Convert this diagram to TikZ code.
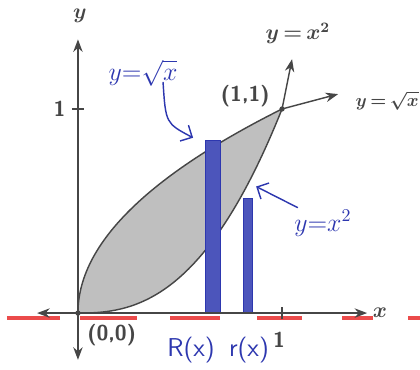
\documentclass[tikz,border=0pt]{standalone}
\usepackage{amsmath}
\usepackage{amssymb}
\usepackage{xcolor}
\usepackage{tikz}
\usetikzlibrary{arrows.meta, positioning, calc}
\definecolor{penblue}{RGB}{45,55,175}
\definecolor{axisgray}{RGB}{70,70,70}
\definecolor{markred}{RGB}{235,75,75}

\begin{document}
\begin{tikzpicture}[scale=4,
    axis/.style={thick, axisgray, {Stealth[length=7pt]}-{Stealth[length=7pt]}},
    ext/.style={thick, axisgray, -{Stealth[length=7pt]}},
    pen/.style={penblue, thick, line cap=round, -{Straight Barb[length=5pt]}},
    strip/.style={fill=penblue!85, draw=penblue},
    lbl/.style={font=\large\sffamily\bfseries, text=axisgray},
    mathlbl/.style={font=\large, text=axisgray},
    hand/.style={font=\Large\sffamily, text=penblue}]
    \useasboundingbox (-0.382,-0.279) rectangle (1.676,1.534);

    % Red marker dashes under the x-axis
    \foreach \a/\b in {-0.348/-0.088, 0.010/0.289, 0.451/0.696, 0.877/1.098, 1.294/1.446, 1.618/1.70}
        \draw[markred, line width=2pt] (\a,-0.024) -- (\b,-0.024);

    % Region between the curves
    \filldraw[fill=gray!50, draw=axisgray, thick]
        plot[domain=0:1, samples=60] ({\x*\x},{\x})
        -- plot[domain=1:0, samples=60] ({\x},{\x*\x*sqrt(\x)}) -- cycle;

    % Washer strips
    \filldraw[strip] (0.623,0) rectangle (0.696,0.844);
    \filldraw[strip] (0.809,0) rectangle (0.853,0.561);

    % Axes
    \coordinate (O) at (0,0);
    \coordinate (P) at (1,1);
    \coordinate (xl) at (-0.2,0);
    \coordinate (xr) at (1.417,0);
    \coordinate (yb) at (0,-0.229);
    \coordinate (yt) at (0,1.341);
    \draw[axis] (xl) -- (xr);
    \draw[axis] (yb) -- (yt);
    \draw[thick, axisgray] (1,-0.03) -- (1,0.03);
    \draw[thick, axisgray] (-0.03,1) -- (0.03,1);
    \node[mathlbl] (xlab) at (1.48,0) {$\boldsymbol{x}$};
    \node[mathlbl] (ylab) at (0.01,1.455) {$\boldsymbol{y}$};
    \node[lbl] (onex) at (0.985,-0.13) {1};
    \node[lbl] (oney) at (-0.09,1) {1};

    % Curves beyond (1,1)
    \coordinate (sqrtend) at (1.275,1.073);
    \coordinate (sqend) at (1.049,1.244);
    \draw[ext] (P) -- (sqrtend);
    \draw[ext] (P) -- (sqend);
    \fill[axisgray] (O) circle (0.013);
    \fill[axisgray] (P) circle (0.013);

    % Printed labels
    \node[lbl, anchor=north west] (orig) at (0.015,-0.025) {(0,0)};
    \node[lbl] (corner) at (0.82,1.063) {(1,1)};
    \node[mathlbl] (sqname) at (1.078,1.37) {$\boldsymbol{y\,{=}\,x^2}$};
    \node[mathlbl, font=\normalsize, anchor=west, inner sep=1pt] (sqrtname) at (1.35,1.04) {$\boldsymbol{y\,{=}\,\sqrt{x}}$};

    % Handwritten notes
    \node[hand] (notesqrt) at (0.319,1.175) {$y{=}\sqrt{x}$};
    \coordinate (sqrtfrom) at (0.417,1.13);
    \coordinate (sqrttip) at (0.564,0.859);
    \draw[pen] (sqrtfrom) .. controls (0.43,0.93) .. (sqrttip);
    \node[hand] (notesq) at (1.2,0.44) {$y{=}x^2$};
    \coordinate (sqfrom) at (1.076,0.517);
    \coordinate (sqtip) at (0.873,0.62);
    \draw[pen] (sqfrom) -- (sqtip);
    \node[hand] (bigR) at (0.554,-0.18) {R(x)};
    \node[hand] (smallr) at (0.838,-0.18) {r(x)};
\end{tikzpicture}
\end{document}
